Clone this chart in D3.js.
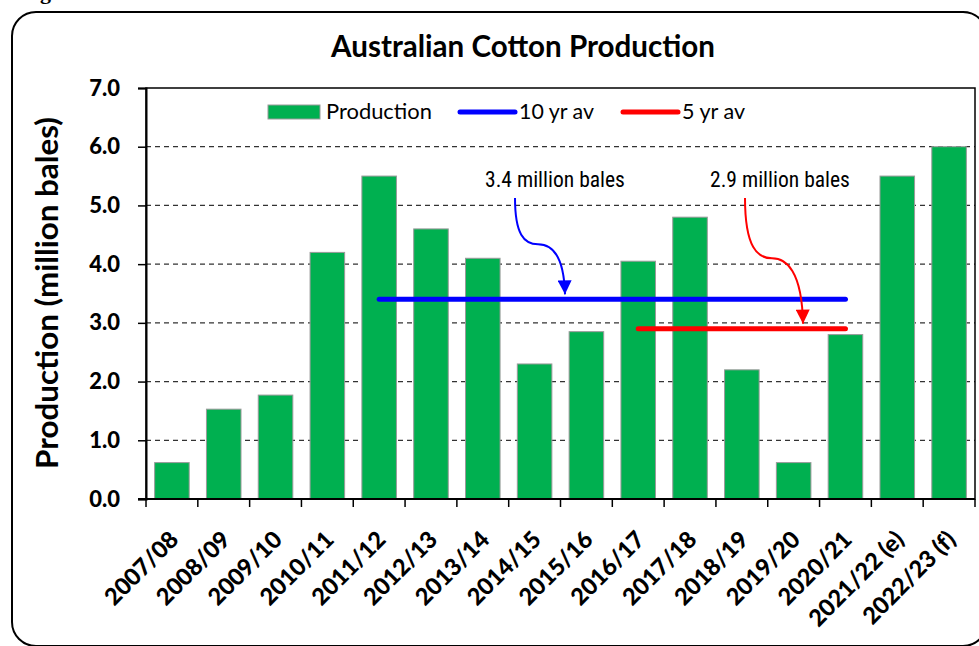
<!DOCTYPE html>
<html lang="en">
<head>
<meta charset="utf-8">
<title>Australian Cotton Production</title>
<script src="https://cdn.jsdelivr.net/npm/d3@7"></script>
<style>
  body { margin: 0; background: #fff; }
  svg { font-family: Lato, "Open Sans", sans-serif; }
</style>
</head>
<body>
<script>
// data
var seasons = ["2007/08", "2008/09", "2009/10", "2010/11", "2011/12", "2012/13", "2013/14",
  "2014/15", "2015/16", "2016/17", "2017/18", "2018/19", "2019/20", "2020/21",
  "2021/22 (e)", "2022/23 (f)"];
var production = [0.62, 1.53, 1.77, 4.2, 5.5, 4.6, 4.1, 2.3, 2.85, 4.05, 4.8, 2.2, 0.62, 2.8, 5.5, 6.0];

var avgNames = ["10 yr av", "5 yr av"];
var avgValues = [3.4, 2.9];
var avgFrom = ["2011/12", "2016/17"];
var avgTo = ["2020/21", "2020/21"];
var avgNotes = ["3.4 million bales", "2.9 million bales"];
var avgColors = ["#0000ff", "#ff0000"];

var yTicks = [0, 1, 2, 3, 4, 5, 6, 7];

var W = 979, H = 646;
var pLeft = 146, pRight = 975, pTop = 88, pBottom = 499;

var svg = d3.select("body").append("svg")
  .attr("width", W).attr("height", H);

function fit(t, w) {
  var l = t.node().getComputedTextLength();
  var fs = parseFloat(t.attr("font-size"));
  t.attr("font-size", (fs * w / l).toFixed(2));
  return t;
}

// cut-off caption fragment + rounded frame
svg.append("text").attr("x", 40).attr("y", -1)
  .style("font-family", "Liberation Serif").attr("font-weight", "bold")
  .attr("font-size", 22).text("g");

svg.append("rect")
  .attr("x", 12).attr("y", 12).attr("width", 975).attr("height", 634)
  .attr("rx", 24).attr("ry", 24)
  .attr("fill", "none").attr("stroke", "#000").attr("stroke-width", 2);

var x = d3.scaleBand().domain(seasons).range([pLeft, pRight])
  .paddingInner(0.333).paddingOuter(0.1667);
var y = d3.scaleLinear().domain([0, 7]).range([pBottom, pTop]);

// gridlines
svg.append("g").selectAll("line")
  .data(yTicks.filter(function(d) { return d > 0 && d < 7; }))
  .enter().append("line")
  .attr("x1", pLeft).attr("x2", pRight)
  .attr("y1", function(d) { return y(d); })
  .attr("y2", function(d) { return y(d); })
  .attr("stroke", "#333").attr("stroke-width", 1.2)
  .attr("stroke-dasharray", "5,4");

// bars
svg.append("g").selectAll("rect")
  .data(production)
  .enter().append("rect")
  .attr("x", function(d, i) { return x(seasons[i]); })
  .attr("width", x.bandwidth())
  .attr("y", function(d) { return y(d); })
  .attr("height", function(d) { return y(0) - y(d); })
  .attr("fill", "#00b050").attr("stroke", "#9a9a9a").attr("stroke-width", 1);

// plot frame
svg.append("rect")
  .attr("x", pLeft).attr("y", pTop).attr("width", pRight - pLeft).attr("height", pBottom - pTop)
  .attr("fill", "none").attr("stroke", "#000").attr("stroke-width", 1.5);

// y axis
var yAxis = svg.append("g")
  .attr("transform", "translate(" + pLeft + ",0)")
  .call(d3.axisLeft(y).tickValues(yTicks).tickFormat(d3.format(".1f"))
    .tickSize(8).tickPadding(18));
yAxis.select(".domain").attr("stroke", "#000").attr("stroke-width", 2);
yAxis.selectAll(".tick line").attr("stroke", "#000").attr("stroke-width", 1.5);
yAxis.selectAll("text")
  .style("font-family", "Lato").style("font-weight", "900").attr("font-size", 22)
  .attr("fill", "#000");

// x axis: ticks between categories
var step = x.step(), gap = (step - x.bandwidth()) / 2;
var bounds = seasons.map(function(s) { return x(s) - gap; }).concat([pRight]);
svg.append("line").attr("x1", pLeft - 8).attr("x2", pRight)
  .attr("y1", pBottom).attr("y2", pBottom)
  .attr("stroke", "#000").attr("stroke-width", 2);
svg.append("g").selectAll("line").data(bounds).enter().append("line")
  .attr("x1", function(d) { return d; }).attr("x2", function(d) { return d; })
  .attr("y1", pBottom).attr("y2", pBottom + 8)
  .attr("stroke", "#000").attr("stroke-width", 1.5);

svg.append("g").selectAll("text").data(seasons).enter().append("text")
  .attr("transform", function(d) {
    return "translate(" + (x(d) + x.bandwidth() / 2 + 8) + "," + (pBottom + 42) + ") rotate(-45)";
  })
  .attr("text-anchor", "end")
  .style("font-weight", "900").attr("font-size", 23.5)
  .text(function(d) { return d; });

// average lines
var line = d3.line()
  .x(function(d) { return x(d[0]) + x.bandwidth() / 2; })
  .y(function(d) { return y(d[1]); });
avgValues.forEach(function(v, i) {
  svg.append("path")
    .attr("d", line([[avgFrom[i], v], [avgTo[i], v]]))
    .attr("stroke", avgColors[i]).attr("stroke-width", 5)
    .attr("stroke-linecap", "round").attr("fill", "none");
});

// annotations with curved arrows
var defs = svg.append("defs");
avgColors.forEach(function(c, i) {
  defs.append("marker").attr("id", "ah" + i)
    .attr("viewBox", "0 0 10 10").attr("refX", 10).attr("refY", 5)
    .attr("markerUnits", "userSpaceOnUse")
    .attr("markerWidth", 16).attr("markerHeight", 14).attr("orient", "auto")
    .append("path").attr("d", "M0,0 L10,5 L0,10 Z").attr("fill", c);
});

var noteX = [555, 780];   // text centres
var noteDx = [[-40, 10], [-35, 23]]; // arrow start / tip offsets from text centre
avgNotes.forEach(function(n, i) {
  var t = svg.append("text").attr("x", noteX[i]).attr("y", 187)
    .attr("text-anchor", "middle")
    .style("font-family", "'Liberation Sans Narrow', 'Arial Narrow', 'Roboto Condensed', sans-serif")
    .attr("font-size", 22).text(n);
  fit(t, 140);
  var x0 = noteX[i] + noteDx[i][0], y0 = 198;
  var x1 = noteX[i] + noteDx[i][1], y1 = y(avgValues[i]) - 5;
  var mx = (x0 + x1) / 2 - 2, my = y0 + (y1 - y0) * 0.48;
  svg.append("path")
    .attr("d", "M" + x0 + "," + y0 +
      " C" + x0 + "," + (my - 10) + " " + (mx - 14) + "," + my + " " + mx + "," + my +
      " C" + (mx + 14) + "," + my + " " + (x1 - 1) + "," + (my + 12) + " " + x1 + "," + y1)
    .attr("stroke", avgColors[i]).attr("stroke-width", 2).attr("fill", "none")
    .attr("marker-end", "url(#ah" + i + ")");
});

// legend
var lg = svg.append("g");
lg.append("rect").attr("x", 268).attr("y", 105).attr("width", 52).attr("height", 14)
  .attr("fill", "#00b050").attr("stroke", "#9a9a9a");
fit(lg.append("text").attr("x", 326).attr("y", 119).attr("font-size", 20).text("Production"), 106);
var legX = [460, 623], legTextW = [75, 63];
avgNames.forEach(function(n, i) {
  lg.append("line").attr("x1", legX[i]).attr("x2", legX[i] + 55)
    .attr("y1", 112).attr("y2", 112)
    .attr("stroke", avgColors[i]).attr("stroke-width", 5).attr("stroke-linecap", "round");
  fit(lg.append("text").attr("x", legX[i] + 59).attr("y", 119).attr("font-size", 20).text(n), legTextW[i]);
});

// titles
fit(svg.append("text").attr("x", 523).attr("y", 57).attr("text-anchor", "middle")
  .attr("font-weight", "bold").attr("font-size", 24)
  .text("Australian Cotton Production"), 384);

fit(svg.append("text").attr("transform", "translate(58,293) rotate(-90)")
  .attr("text-anchor", "middle").attr("font-weight", "bold").attr("font-size", 24)
  .text("Production (million bales)"), 352);
</script>
</body>
</html>
